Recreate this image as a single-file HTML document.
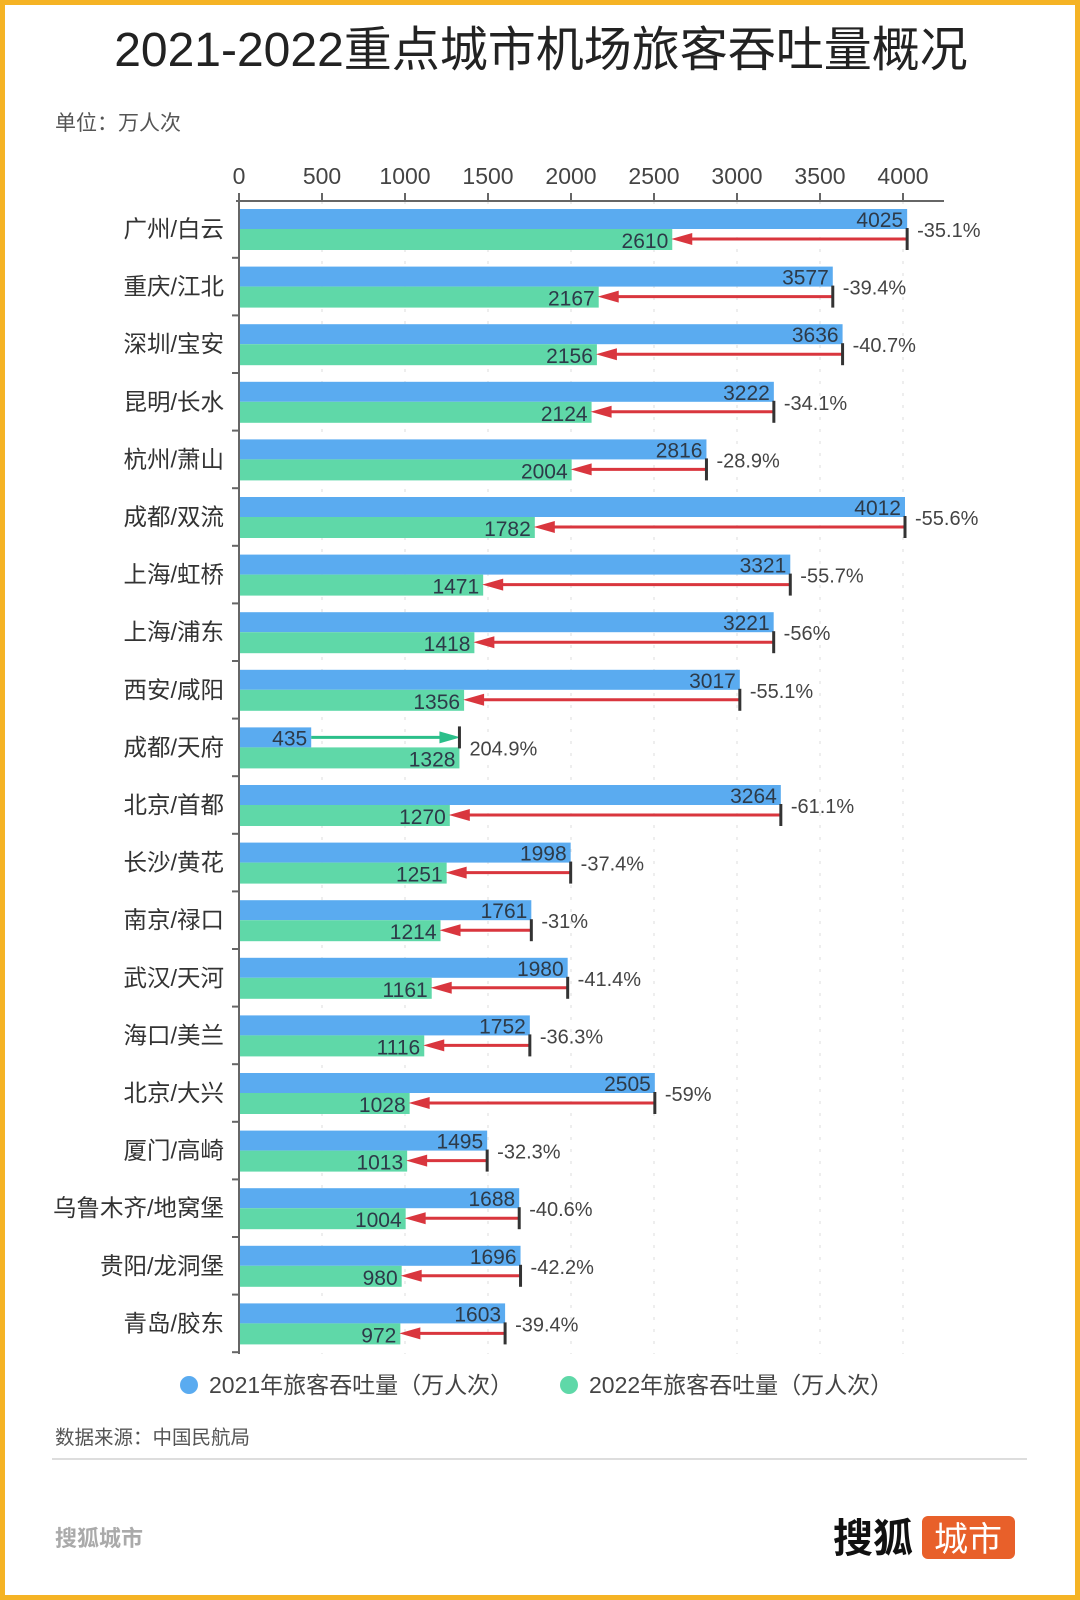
<!DOCTYPE html>
<html><head><meta charset="utf-8"><style>
body{margin:0;width:1080px;height:1600px;background:#fff;font-family:"Liberation Sans","Noto Sans CJK SC",sans-serif;}
#frame{position:absolute;left:0;top:0;width:1080px;height:1600px;box-sizing:border-box;border:5px solid #f5b324;}
</style></head><body>
<div id="frame"></div>
<svg id="chart" width="1080" height="1600" style="position:absolute;left:0;top:0" font-family="Liberation Sans, Noto Sans CJK SC, sans-serif">
<text x="541" y="66" font-size="48" text-anchor="middle" fill="#222">2021-2022重点城市机场旅客吞吐量概况</text>
<text x="55" y="130" font-size="21" fill="#555">单位：万人次</text>
<g id="plot"></g>
<g>
<circle cx="189" cy="1385" r="9" fill="#5aabf0"/>
<text x="209" y="1393" font-size="23" fill="#444">2021年旅客吞吐量（万人次）</text>
<circle cx="569" cy="1385" r="9" fill="#5fd8a8"/>
<text x="589" y="1393" font-size="23" fill="#444">2022年旅客吞吐量（万人次）</text>
</g>
<text x="55" y="1444" font-size="19.5" fill="#555">数据来源：中国民航局</text>
<line x1="52" y1="1459" x2="1027" y2="1459" stroke="#ddd" stroke-width="2"/>
<text x="55" y="1546" font-size="22" font-weight="bold" fill="#aaa">搜狐城市</text>
<text x="833" y="1552" font-size="40" font-weight="bold" fill="#111">搜狐</text>
<rect x="922" y="1516" width="93" height="43" rx="6" fill="#e8602a"/>
<text x="968" y="1551" font-size="34" text-anchor="middle" fill="#fff">城市</text>
</svg>
<script>
const categories=["广州/白云","重庆/江北","深圳/宝安","昆明/长水","杭州/萧山","成都/双流","上海/虹桥","上海/浦东","西安/咸阳","成都/天府","北京/首都","长沙/黄花","南京/禄口","武汉/天河","海口/美兰","北京/大兴","厦门/高崎","乌鲁木齐/地窝堡","贵阳/龙洞堡","青岛/胶东"];
const values2021=[4025,3577,3636,3222,2816,4012,3321,3221,3017,435,3264,1998,1761,1980,1752,2505,1495,1688,1696,1603];
const values2022=[2610,2167,2156,2124,2004,1782,1471,1418,1356,1328,1270,1251,1214,1161,1116,1028,1013,1004,980,972];
const changeLabels=["-35.1%","-39.4%","-40.7%","-34.1%","-28.9%","-55.6%","-55.7%","-56%","-55.1%","204.9%","-61.1%","-37.4%","-31%","-41.4%","-36.3%","-59%","-32.3%","-40.6%","-42.2%","-39.4%"];
const xTicks=[0,500,1000,1500,2000,2500,3000,3500,4000];

const NS="http://www.w3.org/2000/svg";
const g=document.getElementById('plot');
const X0=239,K=0.166,Y0=229,STEP=57.6,BH=20,AXY=201,AXB=1354;
const x=v=>X0+v*K;
const yc=i=>Y0+i*STEP;
function mk(t,a){const e=document.createElementNS(NS,t);for(const k in a)e.setAttribute(k,a[k]);g.appendChild(e);return e;}
xTicks.forEach(t=>{
  let l=mk('line',{x1:x(t),x2:x(t),y1:AXY,y2:AXB,stroke:'#ddd','stroke-dasharray':'3,9'});
  
  
  let tk=mk('line',{x1:x(t),x2:x(t),y1:AXY-8,y2:AXY,stroke:'#666','stroke-width':2});
  
  
  let tx=mk('text',{x:x(t),y:184,'font-size':23,'text-anchor':'middle',fill:'#444'});
  tx.textContent=t;
  
  
});
let ax=mk('line',{x1:X0-3,x2:944,y1:AXY,y2:AXY,stroke:'#666','stroke-width':2});


let ay=mk('line',{x1:X0,x2:X0,y1:AXY,y2:AXB,stroke:'#666','stroke-width':2});


categories.forEach((c,i)=>{
  const cy=yc(i);
  let sep=mk('line',{x1:X0-7,x2:X0,y1:cy+STEP/2,y2:cy+STEP/2,stroke:'#666','stroke-width':2});
  
  
  let lab=mk('text',{x:224,y:cy+8,'font-size':23.5,'text-anchor':'end',fill:'#333'});
  lab.textContent=c;
  
  
  const v1=values2021[i],v2=values2022[i];
  let b1=mk('rect',{x:X0+1,y:cy-BH,width:x(v1)-X0-1,height:BH,fill:'#5aabf0'});
  
  
  let b2=mk('rect',{x:X0+1,y:cy,width:x(v2)-X0-1,height:BH+1,fill:'#5fd8a8'});
  
  
  let t1=mk('text',{x:x(v1)-4,y:cy-2,'font-size':21,'text-anchor':'end',fill:'#2d3a48'});
  t1.textContent=v1;
  
  
  let t2=mk('text',{x:x(v2)-4,y:cy+19,'font-size':21,'text-anchor':'end',fill:'#2d3a48'});
  t2.textContent=v2;
  
  
  const up=v2>v1;
  const ay2=up?cy-10:cy+10;
  const from=x(v1),to=x(v2);
  const col=up?'#2bbf8a':'#d9363e';
  const dir=up?1:-1;
  let ln=mk('line',{x1:from,x2:to-dir*18,y1:ay2,y2:ay2,stroke:col,'stroke-width':3});
  
  
  let hd=mk('polygon',{points:`${to+dir*1},${ay2} ${to-dir*20},${ay2-6} ${to-dir*20},${ay2+6}`,fill:col});
  
  
  const tx0=Math.max(from,to);
  let tk=mk('line',{x1:tx0,x2:tx0,y1:ay2-11,y2:ay2+11,stroke:'#333','stroke-width':3});
  
  
  let pc=mk('text',{x:tx0+10,y:cy+8,'font-size':20,fill:'#444'});
  pc.textContent=changeLabels[i];
  
  
});
</script>
</body></html>
